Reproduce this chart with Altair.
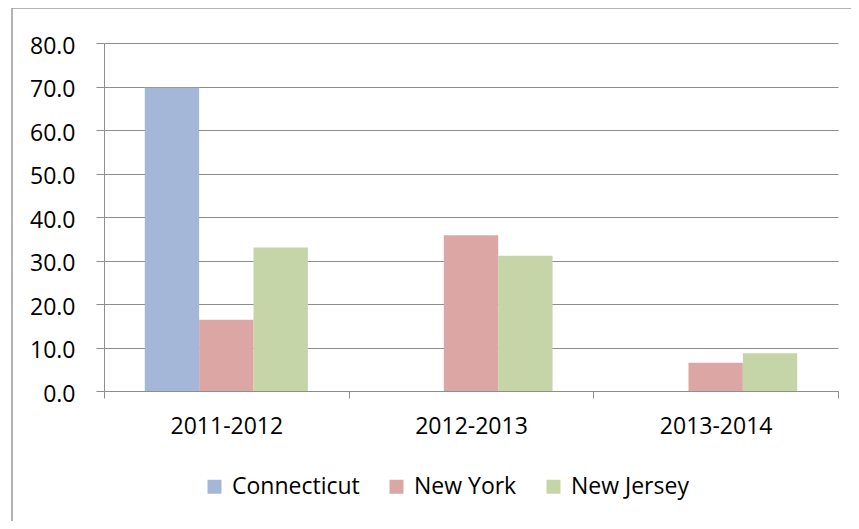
import altair as alt
import pandas as pd

years = ["2011-2012", "2012-2013", "2013-2014"]
states = ["Connecticut", "New York", "New Jersey"]
connecticut = [69.7, 0.0, 0.0]
new_york = [16.4, 35.8, 6.5]
new_jersey = [33.0, 31.1, 8.7]
colors = ["#a4b7d9", "#dba6a4", "#c6d5a8"]
y_ticks = [0, 10, 20, 30, 40, 50, 60, 70, 80]

rows = []
for s, vals in zip(states, [connecticut, new_york, new_jersey]):
    for yr, v in zip(years, vals):
        rows.append({"year": yr, "state": s, "value": v})
df = pd.DataFrame(rows)

W, H = 734, 348
FONT = "Open Sans"
FS = 23
GRAY = "#8e8e8e"

bars = alt.Chart(df).mark_bar().encode(
    x=alt.X(
        "year:N", sort=years,
        scale=alt.Scale(paddingInner=0, paddingOuter=0),
        axis=alt.Axis(title=None, labelAngle=0, tickBand="extent", tickSize=7,
                      labelPadding=17, grid=False),
    ),
    xOffset=alt.XOffset("state:N", sort=states,
                        scale=alt.Scale(paddingInner=0, paddingOuter=0.75)),
    y=alt.Y(
        "value:Q",
        scale=alt.Scale(domain=[0, 80], nice=False),
        axis=alt.Axis(title=None, values=y_ticks, format=".1f", tickSize=8,
                      labelPadding=21, labelOffset=3, grid=True),
    ),
    color=alt.Color(
        "state:N", sort=states,
        scale=alt.Scale(domain=states, range=colors),
        legend=alt.Legend(title=None, orient="none", direction="horizontal",
                          legendX=99, legendY=432, symbolType="square",
                          symbolSize=196, symbolStrokeWidth=0, symbolOpacity=1,
                          labelFontSize=FS, labelFont=FONT, labelColor="black",
                          labelOffset=6, columnPadding=25),
    ),
)

border_data = pd.DataFrame({"k": [0]})
border_v = alt.Chart(border_data).mark_rule(color="#9a9a9a", strokeWidth=1.5).encode(
    x=alt.value(-92), y=alt.value(-35), y2=alt.value(H + 200)
)
border_h = alt.Chart(border_data).mark_rule(color="#9a9a9a", strokeWidth=1.5).encode(
    y=alt.value(-35), x=alt.value(-92), x2=alt.value(W + 40)
)

chart = alt.layer(bars, border_v, border_h).properties(
    width=W, height=H,
    padding={"left": 96, "top": 35, "right": 13, "bottom": 130},
    autosize=alt.AutoSizeParams(type="none"),
).configure_view(stroke="transparent").configure_axis(
    domainColor=GRAY, tickColor=GRAY, gridColor=GRAY,
    labelFont=FONT, labelFontSize=FS, labelColor="black",
)

chart.save("out.html", embed_options={"renderer": "svg", "actions": False})
